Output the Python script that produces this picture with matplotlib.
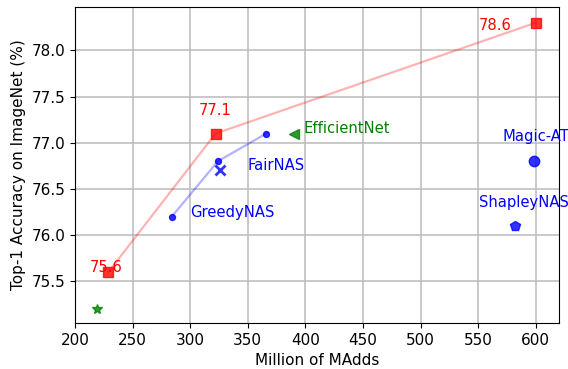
import matplotlib.pyplot as plt

# ours (red line)
ours_x = [229, 322, 600]
ours_y = [75.6, 77.1, 78.3]
ours_labels = ['75.6', '77.1', '78.6']

# GreedyNAS (blue line)
greedy_x = [284, 324, 366]
greedy_y = [76.2, 76.8, 77.1]

fair_x, fair_y = 326, 76.7
eff_x, eff_y = 390, 77.1
star_x, star_y = 219, 75.2
magic_x, magic_y = 598, 76.8
shap_x, shap_y = 582, 76.1

plt.rcParams['font.size'] = 11
fs = 10.6  # annotation size

fig, ax = plt.subplots(figsize=(5.68, 3.69), dpi=100)
fig.subplots_adjust(left=0.132, right=0.984, top=0.981, bottom=0.125)

ax.plot(ours_x, ours_y, color='red', alpha=0.3, lw=1.6)
ax.plot(ours_x, ours_y, 's', color='red', alpha=0.8, ms=7.5)
ax.plot(greedy_x, greedy_y, color='blue', alpha=0.3, lw=1.6)
ax.plot(greedy_x, greedy_y, 'o', color='blue', alpha=0.8, ms=4.3)
ax.plot(fair_x, fair_y, 'x', color='blue', alpha=0.8, ms=7.5, mew=2)
ax.plot(eff_x, eff_y, '<', color='green', alpha=0.8, ms=7.5)
ax.plot(star_x, star_y, '*', color='green', alpha=0.8, ms=7.5)
ax.plot(magic_x, magic_y, 'o', color='blue', alpha=0.8, ms=7.5)
ax.plot(shap_x, shap_y, 'p', color='blue', alpha=0.8, ms=7.5)

ax.text(213, 75.65, ours_labels[0], color='red', va='center', fontsize=fs)
ax.text(322, 77.35, ours_labels[1], color='red', va='center', ha='center', fontsize=fs)
ax.text(550, 78.27, ours_labels[2], color='red', va='center', fontsize=fs)
ax.text(300, 76.25, 'GreedyNAS', color='blue', va='center', fontsize=fs)
ax.text(350, 76.75, 'FairNAS', color='blue', va='center', fontsize=fs)
ax.text(398, 77.15, 'EfficientNet', color='green', va='center', fontsize=fs)
ax.text(571, 77.07, 'Magic-AT', color='blue', va='center', fontsize=fs)
ax.text(551, 76.35, 'ShapleyNAS', color='blue', va='center', fontsize=fs)

ax.set_xlim(200, 620)
ax.set_ylim(75.05, 78.47)
ax.set_xticks(range(200, 601, 50))
ax.set_yticks([75.5, 76.0, 76.5, 77.0, 77.5, 78.0])
ax.grid(True, color='#bbbbbb', lw=1.1)
ax.set_axisbelow(True)
ax.set_xlabel('Million of MAdds')
ax.set_ylabel('Top-1 Accuracy on ImageNet (%)')

plt.savefig('out.png')
